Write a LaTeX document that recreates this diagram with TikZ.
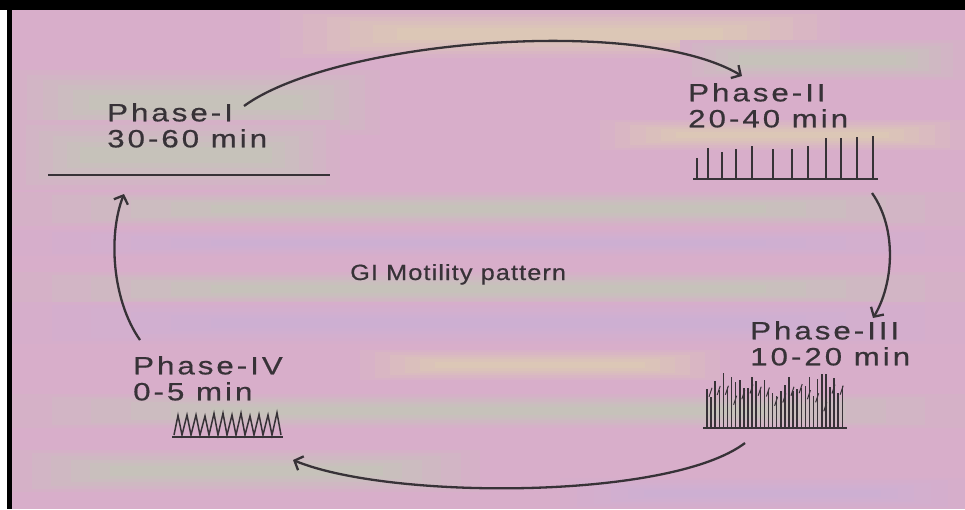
\documentclass[tikz,border=0pt]{standalone}
\usepackage{fontspec}
\setmainfont{Liberation Sans}
\newfontfamily\phasefont[FakeStretch=1.25,LetterSpace=12,FakeBold=0.6]{Liberation Sans}
\newfontfamily\titlefont[FakeStretch=1.15,LetterSpace=5,FakeBold=0.6]{Liberation Sans}
\usetikzlibrary{arrows.meta,positioning}
\definecolor{inkgray}{RGB}{55,50,55}
\definecolor{pinkbg}{RGB}{216,174,202}
\definecolor{greenbg}{RGB}{186,208,176}
\definecolor{lilacbg}{RGB}{198,176,216}
\definecolor{sandbg}{RGB}{222,216,168}

\begin{document}
\begin{tikzpicture}[x=1pt, y=-1pt, >={Straight Barb[length=7pt,width=15pt]},
    phase/.style={font=\phasefont\fontsize{25}{26}\selectfont, text=inkgray, align=left, inner sep=0pt, anchor=north west},
    flow/.style={->, draw=inkgray, line width=2.3pt},
    trace/.style={draw=inkgray, line width=2pt},
    spike/.style={draw=inkgray, line width=1.5pt}]
    \useasboundingbox (0,0) rectangle (965,509);

    % stripy background of the photo
    \fill[pinkbg] (0,0) rectangle (965,509);
    \foreach \xa/\xb/\ya/\yb/\col in {280/840/10/58/sandbg, 12/380/70/135/greenbg, 12/340/120/190/greenbg,
                                      680/965/40/80/greenbg, 600/965/120/150/sandbg, 12/965/192/226/greenbg,
                                      12/965/230/256/lilacbg, 12/965/272/306/greenbg, 12/965/302/344/lilacbg,
                                      360/720/350/380/sandbg, 12/965/394/428/greenbg, 12/480/450/492/greenbg,
                                      560/965/478/509/lilacbg}
        \foreach \k in {1,...,6} {
            \pgfmathtruncatemacro{\mix}{10*\k}
            \pgfmathsetmacro{\cut}{(\yb-\ya)*(\k-1)/13}
            \pgfmathsetmacro{\cutx}{(\xb-\xa)*(\k-1)/24}
            \fill[\col!\mix!pinkbg] ({\xa+\cutx},{\ya+\cut}) rectangle ({\xb-\cutx},{\yb-\cut});
        }
    \fill[black] (0,0) rectangle (965,10);
    \fill[white] (0,10) rectangle (7,509);
    \fill[black] (7,10) rectangle (12,509);

    % phases
    \node[phase] (p1) at (107,103) {Phase-I\\30-60 min};
    \node[phase] (p2) at (688,83)  {Phase-II\\20-40 min};
    \node[phase] (p3) at (750,321) {Phase-III\\10-20 min};
    \node[phase] (p4) at (133,356) {Phase-IV\\0-5 min};
    \node[font=\titlefont\fontsize{22}{26}\selectfont, text=inkgray, inner sep=0pt, anchor=base west] (gi) at (350,280) {GI Motility pattern};

    % traces
    \draw[trace] (48,175) -- (330,175);

    \draw[trace] (693,179) -- (878,179);
    \foreach \x/\t in {697/158, 708/148, 722/152, 736/149, 752/146, 773/149,
                       792/149, 808/146, 826/138, 841/138, 857/137, 873/136}
        \draw[spike, line width=2.4pt] (\x,179) -- (\x,\t);

    \draw[trace] (703,428) -- (847,428);
    \pgfmathsetseed{11}
    \foreach \i in {0,...,33} {
        \pgfmathsetmacro{\xs}{707+4.1*\i}
        \pgfmathsetmacro{\ys}{372+26*rnd}
        \draw[spike] (\xs,428) -- (\xs,\ys);
    }
    \foreach \i in {0,...,16} {
        \pgfmathsetmacro{\xs}{709+8.2*\i}
        \pgfmathsetmacro{\ys}{392+22*rnd}
        \draw[spike, line width=1pt] (\xs,\ys) -- ++(3,-9);
    }

    \draw[trace] (172,437) -- (283,437);
    \draw[spike] (174,435) \foreach \i in {0,...,11} { -- ({178+9*\i},{412+5*rnd}) -- ({182+9*\i},435) };

    % cycle arrows
    \coordinate (s1) at (244,106);  \coordinate (e1) at (742,76);
    \coordinate (s2) at (872,193);  \coordinate (e2) at (873,318);
    \coordinate (s3) at (745,443);  \coordinate (e3) at (293,460);
    \coordinate (s4) at (140,340);  \coordinate (e4) at (124,194);
    \draw[flow] (s1) .. controls (335,40) and (640,15) .. (e1);
    \draw[flow] (s2) .. controls (898,230) and (893,285) .. (e2);
    \draw[flow] (s3) .. controls (670,500) and (390,500) .. (e3);
    \draw[flow] (s4) .. controls (112,300) and (108,235) .. (e4);
\end{tikzpicture}
\end{document}
